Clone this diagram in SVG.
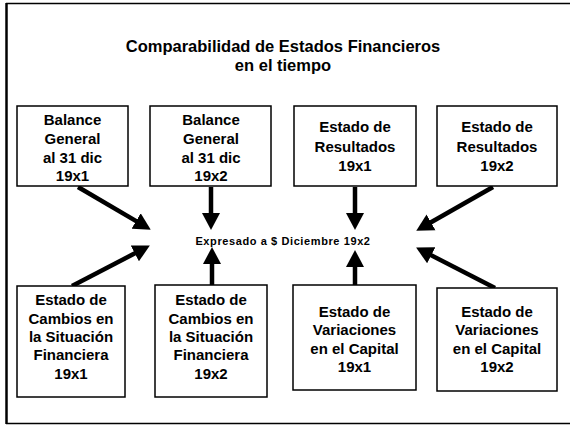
<svg xmlns="http://www.w3.org/2000/svg" width="570" height="427" viewBox="0 0 570 427">
<style>
.box{fill:#fff;stroke:#000;stroke-width:1.5}
.t{font-family:"Liberation Sans",Arial,sans-serif;font-weight:bold;font-size:15px;text-anchor:middle;fill:#000}
.title{font-family:"Liberation Sans",Arial,sans-serif;font-weight:bold;font-size:16.5px;text-anchor:middle;fill:#000}
.c{font-family:"Liberation Sans",Arial,sans-serif;font-weight:bold;font-size:11px;text-anchor:middle;fill:#000;letter-spacing:0.6px}
.arr{stroke:#000;stroke-width:4.5;fill:none;marker-end:url(#ah)}
.frame{stroke:#000;fill:none}
</style>
<defs>
<marker id="ah" markerUnits="userSpaceOnUse" markerWidth="18" markerHeight="19" refX="6" refY="9" orient="auto" viewBox="0 0 18 18">
<path d="M0,0 L17,9 L0,18 z" fill="#000"/>
</marker>
</defs>
<rect x="0" y="0" width="570" height="427" fill="#fff"/>
<g id="frame">
<line class="frame" x1="6" y1="3.5" x2="570" y2="3.5" stroke-width="1.5"/>
<line class="frame" x1="6.5" y1="3" x2="6.5" y2="424" stroke-width="2.5"/>
<line class="frame" x1="6" y1="423.5" x2="570" y2="423.5" stroke-width="1.5"/>
</g>
<g id="title">
<text class="title" x="283" y="52">Comparabilidad de Estados Financieros</text>
<text class="title" x="283" y="71">en el tiempo</text>
</g>
<g id="center">
<text class="c" x="283" y="245">Expresado a $ Diciembre 19x2</text>
</g>
<g id="connectors">
<line class="arr" x1="78" y1="187" x2="141.3" y2="224.1"/>
<line class="arr" x1="211" y1="187" x2="211" y2="219"/>
<line class="arr" x1="355" y1="187" x2="355" y2="219"/>
<line class="arr" x1="493" y1="187" x2="425.8" y2="225.3"/>
<line class="arr" x1="72" y1="286" x2="140.1" y2="250.6"/>
<line class="arr" x1="212" y1="285" x2="212" y2="258"/>
<line class="arr" x1="355" y1="285" x2="355" y2="261"/>
<line class="arr" x1="495" y1="288" x2="425.9" y2="252.6"/>
</g>
<g id="n1">
<rect class="box" x="17" y="106" width="111" height="80"/>
<text class="t" x="72.5" y="125">Balance</text>
<text class="t" x="72.5" y="144">General</text>
<text class="t" x="72.5" y="163">al 31 dic</text>
<text class="t" x="72.5" y="181">19x1</text>
</g>
<g id="n2">
<rect class="box" x="150" y="106" width="121" height="80"/>
<text class="t" x="211" y="125">Balance</text>
<text class="t" x="211" y="144">General</text>
<text class="t" x="211" y="163">al 31 dic</text>
<text class="t" x="211" y="181">19x2</text>
</g>
<g id="n3">
<rect class="box" x="294" y="106" width="122" height="80"/>
<text class="t" x="355" y="132">Estado de</text>
<text class="t" x="355" y="152">Resultados</text>
<text class="t" x="355" y="171">19x1</text>
</g>
<g id="n4">
<rect class="box" x="437" y="106" width="120" height="80"/>
<text class="t" x="497" y="132">Estado de</text>
<text class="t" x="497" y="152">Resultados</text>
<text class="t" x="497" y="171">19x2</text>
</g>
<g id="n5">
<rect class="box" x="17" y="286" width="108" height="111"/>
<text class="t" x="71" y="305">Estado de</text>
<text class="t" x="71" y="324">Cambios en</text>
<text class="t" x="71" y="342">la Situación</text>
<text class="t" x="71" y="360">Financiera</text>
<text class="t" x="71" y="379">19x1</text>
</g>
<g id="n6">
<rect class="box" x="155" y="285" width="112" height="112"/>
<text class="t" x="211" y="305">Estado de</text>
<text class="t" x="211" y="324">Cambios en</text>
<text class="t" x="211" y="342">la Situación</text>
<text class="t" x="211" y="360">Financiera</text>
<text class="t" x="211" y="379">19x2</text>
</g>
<g id="n7">
<rect class="box" x="293" y="285" width="123" height="105"/>
<text class="t" x="354.5" y="317">Estado de</text>
<text class="t" x="354.5" y="335">Variaciones</text>
<text class="t" x="354.5" y="354">en el Capital</text>
<text class="t" x="354.5" y="372">19x1</text>
</g>
<g id="n8">
<rect class="box" x="437" y="288" width="120" height="103"/>
<text class="t" x="497" y="317">Estado de</text>
<text class="t" x="497" y="335">Variaciones</text>
<text class="t" x="497" y="354">en el Capital</text>
<text class="t" x="497" y="372">19x2</text>
</g>
</svg>
